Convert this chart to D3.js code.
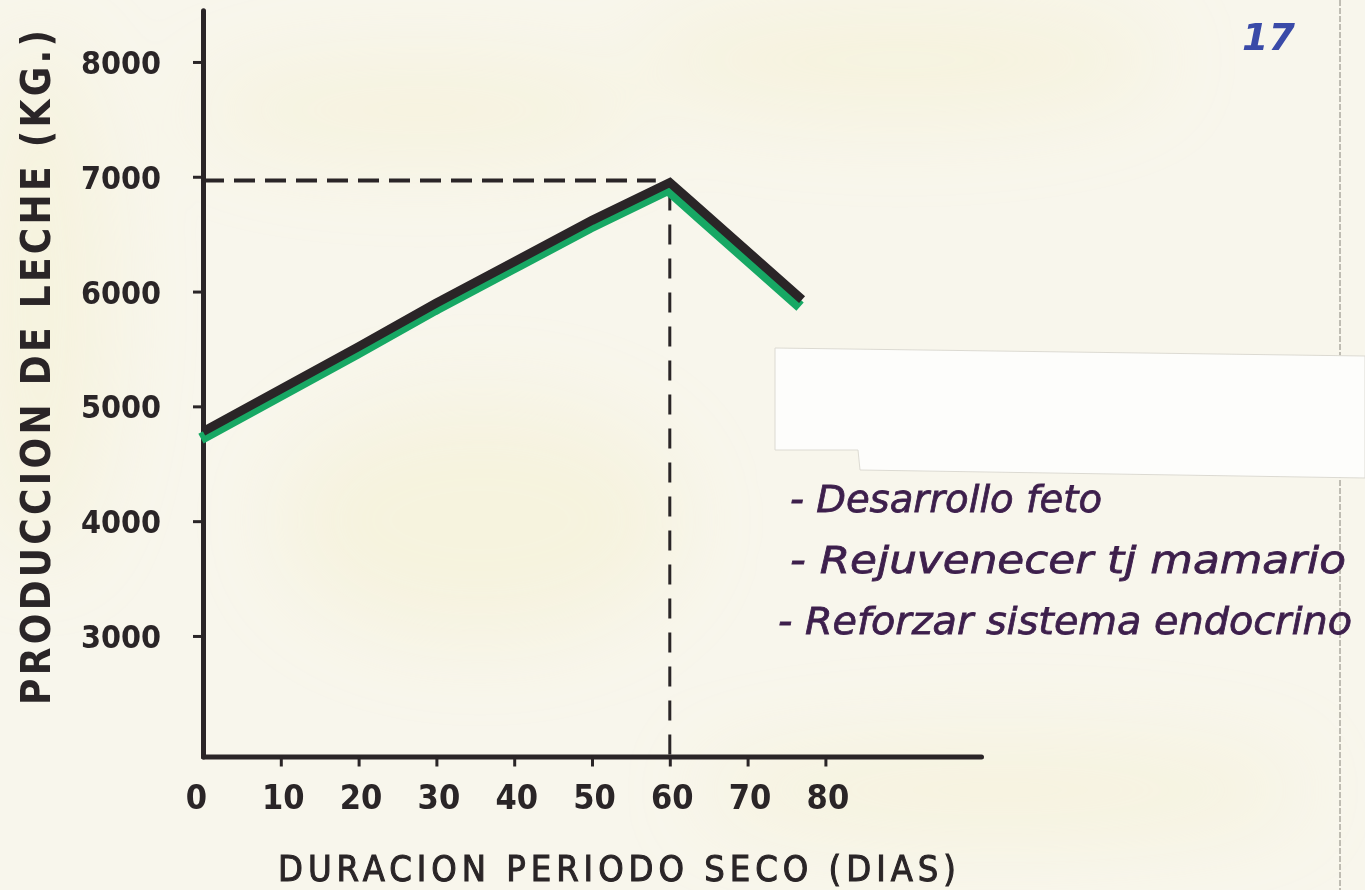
<!DOCTYPE html>
<meta charset="utf-8">
<style>
  body { margin: 0; background: #f7f4e6; }
  svg { display: block; }
</style>
<body></body>
<script src="https://cdn.jsdelivr.net/npm/d3@7"></script>
<script>
  const width = 1365
  const height = 890

  // dry period (days) vs milk yield (kg)
  const days = [0, 10, 20, 30, 40, 50, 60, 77]
  const milk = [4780, 5150, 5520, 5900, 6260, 6620, 6950, 5930]
  const peakIndex = 6

  const xTicks = [0, 10, 20, 30, 40, 50, 60, 70, 80]
  const yTicks = [3000, 4000, 5000, 6000, 7000, 8000]

  const notes = [
    "- Desarrollo feto",
    "- Rejuvenecer tj mamario",
    "- Reforzar sistema endocrino"
  ]

  const ink = "#2a2527"
  const green = "#17a864"
  const purple = "#3d1f4c"
  const font = "'DejaVu Sans Condensed', 'DejaVu Sans', sans-serif"

  const x = d3.scaleLinear().domain([0, 100]).range([203, 981])
  const y = d3.scaleLinear().domain([1950, 8450]).range([756.5, 10.3])

  const data = days.map((d, i) => ({ day: d, kg: milk[i] }))
  const peak = data[peakIndex]

  const svg = d3.select("body").append("svg")
    .attr("width", width)
    .attr("height", height)

  // paper
  const defs = svg.append("defs")
  defs.append("filter").attr("id", "blur")
    .append("feGaussianBlur").attr("stdDeviation", 40)

  svg.append("rect")
    .attr("width", width)
    .attr("height", height)
    .attr("fill", "#f8f6ec")

  const stains = [[40, 300, 70, 260], [420, 110, 220, 50], [900, 60, 260, 60], [1000, 790, 300, 50], [480, 520, 200, 120]]
  svg.append("g").attr("filter", "url(#blur)")
    .selectAll("ellipse").data(stains).join("ellipse")
    .attr("cx", d => d[0]).attr("cy", d => d[1])
    .attr("rx", d => d[2]).attr("ry", d => d[3])
    .attr("fill", "#f4edc6").attr("opacity", 0.35)

  // right page edge
  svg.append("line")
    .attr("x1", 1340).attr("x2", 1340).attr("y1", 0).attr("y2", height)
    .attr("stroke", "#9a978d").attr("stroke-width", 1.2)
    .attr("stroke-dasharray", "6 2")

  // pasted white strip
  svg.append("path")
    .attr("d", "M775,348 L1365,356 L1365,478 L860,470 L858,450 L775,450 Z")
    .attr("fill", "#fdfdfb")
    .attr("stroke", "#dcdad2")
    .attr("stroke-width", 1)

  // dashed guides to the peak
  svg.append("line")
    .attr("x1", x(0)).attr("x2", x(peak.day) - 14)
    .attr("y1", y(peak.kg) - 2).attr("y2", y(peak.kg) - 2)
    .attr("stroke", ink).attr("stroke-width", 4)
    .attr("stroke-dasharray", "21 10")

  svg.append("line")
    .attr("x1", x(peak.day)).attr("x2", x(peak.day))
    .attr("y1", y(peak.kg) + 8).attr("y2", y(1950))
    .attr("stroke", ink).attr("stroke-width", 3)
    .attr("stroke-dasharray", "20 14")

  // axes
  const yAxis = d3.axisLeft(y)
    .tickValues(yTicks)
    .tickFormat(d3.format("d"))
    .tickSize(10)
    .tickSizeOuter(0)
    .tickPadding(32)

  const xAxis = d3.axisBottom(x)
    .tickValues(xTicks)
    .tickFormat(d3.format("d"))
    .tickSize(10)
    .tickSizeOuter(0)
    .tickPadding(18)

  const gy = svg.append("g")
    .attr("transform", `translate(${x(0)},0)`)
    .call(yAxis)

  const gx = svg.append("g")
    .attr("transform", `translate(0,${y(1950)})`)
    .call(xAxis)

  gy.select(".domain").attr("stroke", ink).attr("stroke-width", 5).attr("stroke-linecap", "round")
  gx.select(".domain").attr("stroke", ink).attr("stroke-width", 5).attr("stroke-linecap", "round")
  svg.selectAll(".tick line").attr("stroke", ink).attr("stroke-width", 3)
  gx.selectAll(".tick").filter(d => d === 0).select("line").remove()

  gy.selectAll(".tick text")
    .attr("font-family", font)
    .attr("font-weight", "bold")
    .attr("font-size", 32)
    .attr("fill", ink)
    .attr("dy", "0.36em")

  gx.selectAll(".tick text")
    .attr("font-family", font)
    .attr("font-weight", "bold")
    .attr("font-size", 34)
    .attr("fill", ink)
    .attr("dx", d => d === 0 ? -7 : 2)

  // axis titles
  svg.append("text")
    .attr("transform", "translate(50,705) rotate(-90)")
    .attr("font-family", font)
    .attr("font-weight", "bold")
    .attr("font-size", 40)
    .attr("fill", ink)
    .attr("textLength", 675)
    .attr("lengthAdjust", "spacing")
    .text("PRODUCCION DE LECHE (KG.)")

  svg.append("text")
    .attr("x", 278)
    .attr("y", 881)
    .attr("font-family", font)
    .attr("font-size", 36)
    .attr("fill", ink)
    .attr("stroke", ink)
    .attr("stroke-width", 1)
    .attr("textLength", 678)
    .attr("lengthAdjust", "spacing")
    .text("DURACION PERIODO SECO (DIAS)")

  // the curve: green marker underneath, black on top
  const line = d3.line()
    .x(d => x(d.day))
    .y(d => y(d.kg))

  svg.append("path")
    .datum(data)
    .attr("d", line)
    .attr("transform", "translate(-2,7)")
    .attr("fill", "none")
    .attr("stroke", green)
    .attr("stroke-width", 11)
    .attr("stroke-linejoin", "round")

  svg.append("path")
    .datum(data)
    .attr("d", line)
    .attr("fill", "none")
    .attr("stroke", ink)
    .attr("stroke-width", 9)
    .attr("stroke-linejoin", "miter")

  // handwritten notes
  const noteWidths = [312, 556, 574]
  const noteX = [790, 790, 778]
  svg.append("g")
    .selectAll("text").data(notes).join("text")
    .attr("x", (d, i) => noteX[i])
    .attr("y", (d, i) => 512 + i * 61)
    .attr("font-family", "'DejaVu Sans', sans-serif")
    .attr("font-style", "italic")
    .attr("font-size", 38)
    .attr("fill", purple)
    .attr("stroke", purple)
    .attr("stroke-width", 0.8)
    .attr("textLength", (d, i) => noteWidths[i])
    .attr("lengthAdjust", "spacingAndGlyphs")
    .text(d => d)

  // page number
  svg.append("text")
    .attr("x", 1242)
    .attr("y", 50)
    .attr("font-family", "'DejaVu Sans', sans-serif")
    .attr("font-style", "italic")
    .attr("font-weight", "bold")
    .attr("font-size", 38)
    .attr("fill", "#3a4aa8")
    .text("17")
</script>
